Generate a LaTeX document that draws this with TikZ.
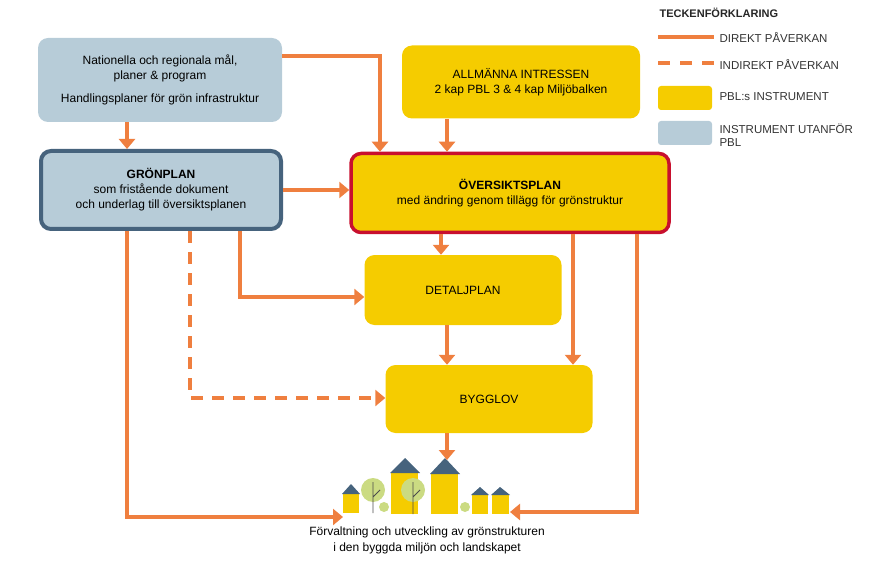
\documentclass[tikz,border=0pt]{standalone}
\usepackage{fontspec}
\setmainfont{Liberation Sans}
\usetikzlibrary{arrows.meta}
\definecolor{or}{HTML}{EF7F3F}
\definecolor{ye}{HTML}{F5CC00}
\definecolor{bl}{HTML}{B7CCD8}
\definecolor{db}{HTML}{46637D}
\definecolor{rd}{HTML}{C8102E}
\definecolor{lg}{HTML}{CBDB82}
\begin{document}
\begin{tikzpicture}[x=1pt,y=-1pt,
  box/.style={rounded corners=10pt,align=center,font=\fontsize{12}{15}\selectfont,inner sep=0pt},
  yel/.style={box,fill=ye},
  blu/.style={box,fill=bl},
  arr/.style={or,line width=4.5pt,-{Triangle[length=10pt,width=16pt]}},
  dsh/.style={arr,dash pattern=on 12pt off 9pt},
  leg/.style={anchor=west,font=\fontsize{11.5}{13}\selectfont,align=left,text=black!80}]
\useasboundingbox (0,0) rectangle (870,564);
\node[blu,minimum width=244pt,minimum height=84pt] (nat) at (160,80) {Nationella och regionala mål,\\planer \& program\\[8pt]Handlingsplaner för grön infrastruktur};
\node[blu,draw=db,line width=4pt,minimum width=240pt,minimum height=78pt] (gron) at (161,190) {{\bfseries GRÖNPLAN}\\som fristående dokument\\och underlag till översiktsplanen};
\node[yel,minimum width=238pt,minimum height=73pt] (allm) at (521,82) {ALLMÄNNA INTRESSEN\\2 kap PBL 3 \& 4 kap Miljöbalken};
\node[yel,draw=rd,line width=3.5pt,minimum width=318pt,minimum height=79pt] (over) at (510,193) {{\bfseries ÖVERSIKTSPLAN}\\med ändring genom tillägg för grönstruktur};
\node[yel,minimum width=197pt,minimum height=70pt] (det) at (463,290) {DETALJPLAN};
\node[yel,minimum width=207pt,minimum height=68pt] (bygg) at (489,399) {BYGGLOV};
% houses
\coordinate (hs) at (427,460);
\coordinate (hl) at (343,517);
\coordinate (hr) at (510,512);
\begin{scope}
\fill[ye] (343,494) rectangle (359,513);\fill[db] (342,494)--(351,484)--(360,494)--cycle;
\fill[ye] (391,473) rectangle (418,514);\fill[db] (390,473)--(405,458)--(420,473)--cycle;
\fill[ye] (431,474) rectangle (458,514);\fill[db] (430,474)--(445,458)--(460,474)--cycle;
\fill[ye] (472,495) rectangle (488,514);\fill[db] (471,495)--(480,487)--(489,495)--cycle;
\fill[ye] (492,495) rectangle (509,514);\fill[db] (491,495)--(500,487)--(510,495)--cycle;
\fill[lg] (373,490) circle (12);\fill[lg] (384,507) circle (5);
\fill[lg] (413,490) circle (12);\fill[lg] (465,507) circle (5);
\draw[black!70,line width=0.8pt] (373,482)--(373,513) (373,497)--(380,490) (413,482)--(413,514) (413,497)--(420,490);
\end{scope}
\node[font=\fontsize{12}{16}\selectfont,align=center] (txt) at (427,540) {Förvaltning och utveckling av grönstrukturen\\i den byggda miljön och landskapet};
% arrows
\draw[arr] (nat.south -| 127,0) -- (gron.north -| 127,0);
\draw[arr] (282,56) -| (over.north -| 380,0);
\draw[arr] (allm.south -| 447,0) -- (over.north -| 447,0);
\draw[arr] (gron.east |- 0,190) -- (over.west |- 0,190);
\draw[arr] (over.south -| 441,0) -- (det.north -| 441,0);
\draw[arr] (gron.south -| 240,0) |- (det.west |- 0,297);
\draw[dsh] (gron.south -| 190,0) |- (bygg.west |- 0,398);
\draw[arr] (det.south -| 447,0) -- (bygg.north -| 447,0);
\draw[arr] (over.south -| 573,0) -- (bygg.north -| 573,0);
\draw[arr] (bygg.south -| 447,0) -- (hs -| 447,0);
\draw[arr] (gron.south -| 127,0) |- (hl);
\draw[arr] (over.south -| 637,0) |- (hr);
% legend
\node[anchor=west,font=\bfseries\fontsize{11}{12}\selectfont,text=black!85] (lt) at (656,13) {TECKENFÖRKLARING};
\coordinate (l1a) at (658,37);\coordinate (l1b) at (714,37);
\draw[or,line width=4.5pt] (l1a)--(l1b);
\node[leg] (l1) at (716,37) {DIREKT PÅVERKAN};
\coordinate (l2a) at (658,63);\coordinate (l2b) at (714,63);
\draw[or,line width=4.5pt,dash pattern=on 12pt off 10pt] (l2a)--(l2b);
\node[leg] (l2) at (716,64) {INDIREKT PÅVERKAN};
\node[fill=ye,rounded corners=3pt,minimum width=54pt,minimum height=24pt,inner sep=0pt] (l3b) at (685,98) {};
\node[leg] (l3) at (716,97) {PBL:s INSTRUMENT};
\node[fill=bl,rounded corners=3pt,minimum width=54pt,minimum height=24pt,inner sep=0pt] (l4b) at (685,133) {};
\node[leg] (l4) at (716,135) {INSTRUMENT UTANFÖR\\PBL};
\end{tikzpicture}
\end{document}
